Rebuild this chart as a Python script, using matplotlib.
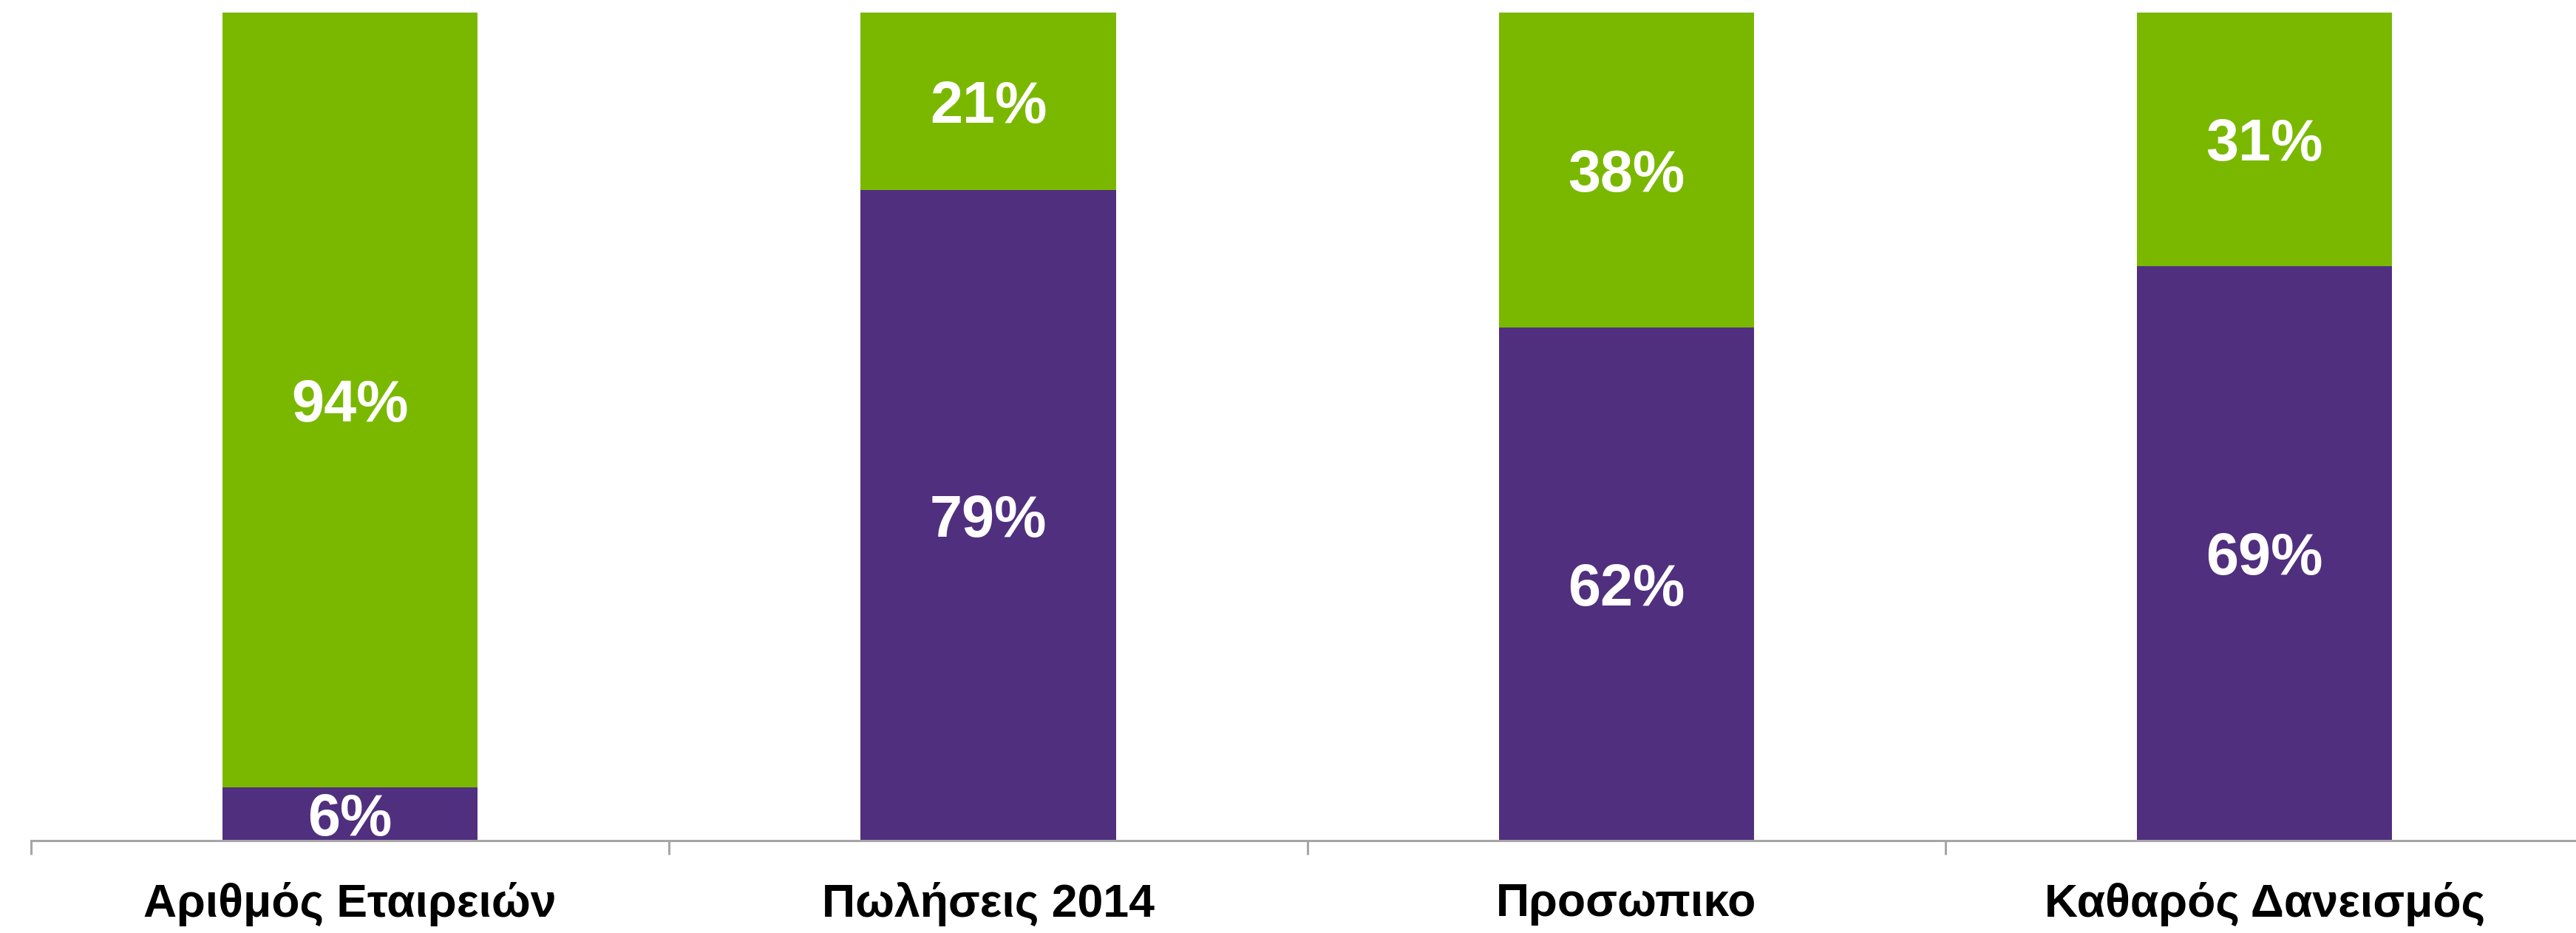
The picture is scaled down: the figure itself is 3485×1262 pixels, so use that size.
import matplotlib.pyplot as plt
import numpy as np

categories = ["Αριθμός Εταιρειών", "Πωλήσεις 2014", "Προσωπικο", "Καθαρός Δανεισμός"]
purple_vals = [6.4, 78.6, 62.0, 69.4]
green_vals = [93.6, 21.4, 38.0, 30.6]

purple = "#512f7f"
green = "#7ab800"

plt.rcParams['font.family'] = ['Liberation Sans', 'DejaVu Sans']

fig = plt.figure(figsize=(34.85, 12.62), dpi=100)
ax = fig.add_axes([42 / 3485, 1 - 1137 / 1262, 3453.5 / 3485, 1120 / 1262])

x = np.arange(len(categories))
ax.bar(x, purple_vals, width=0.4, color=purple)
ax.bar(x, green_vals, width=0.4, bottom=purple_vals, color=green)

for i in range(len(categories)):
    ax.text(x[i], purple_vals[i] / 2, f"{purple_vals[i]:.0f}%", ha='center',
            va='center_baseline', color='white', fontsize=57, fontweight='bold')
    ax.text(x[i], purple_vals[i] + green_vals[i] / 2, f"{green_vals[i]:.0f}%", ha='center',
            va='center_baseline', color='white', fontsize=57, fontweight='bold')

ax.set_xlim(-0.5, len(categories) - 0.5)
ax.set_ylim(0, 100)

for s in ['top', 'right', 'left']:
    ax.spines[s].set_visible(False)
ax.spines['bottom'].set_color('#a6a6a6')
ax.spines['bottom'].set_linewidth(2.2)

ax.set_yticks([])
ax.set_xticks(x)
ax.set_xticklabels(categories, fontsize=45, fontweight='bold', color='black')
ax.tick_params(axis='x', which='major', length=0, pad=40)
ax.set_xticks(np.arange(-0.5, len(categories), 1.0), minor=True)
ax.tick_params(axis='x', which='minor', length=14, width=2.2, color='#a6a6a6', direction='out')

fig.savefig("out.png", dpi=100)
